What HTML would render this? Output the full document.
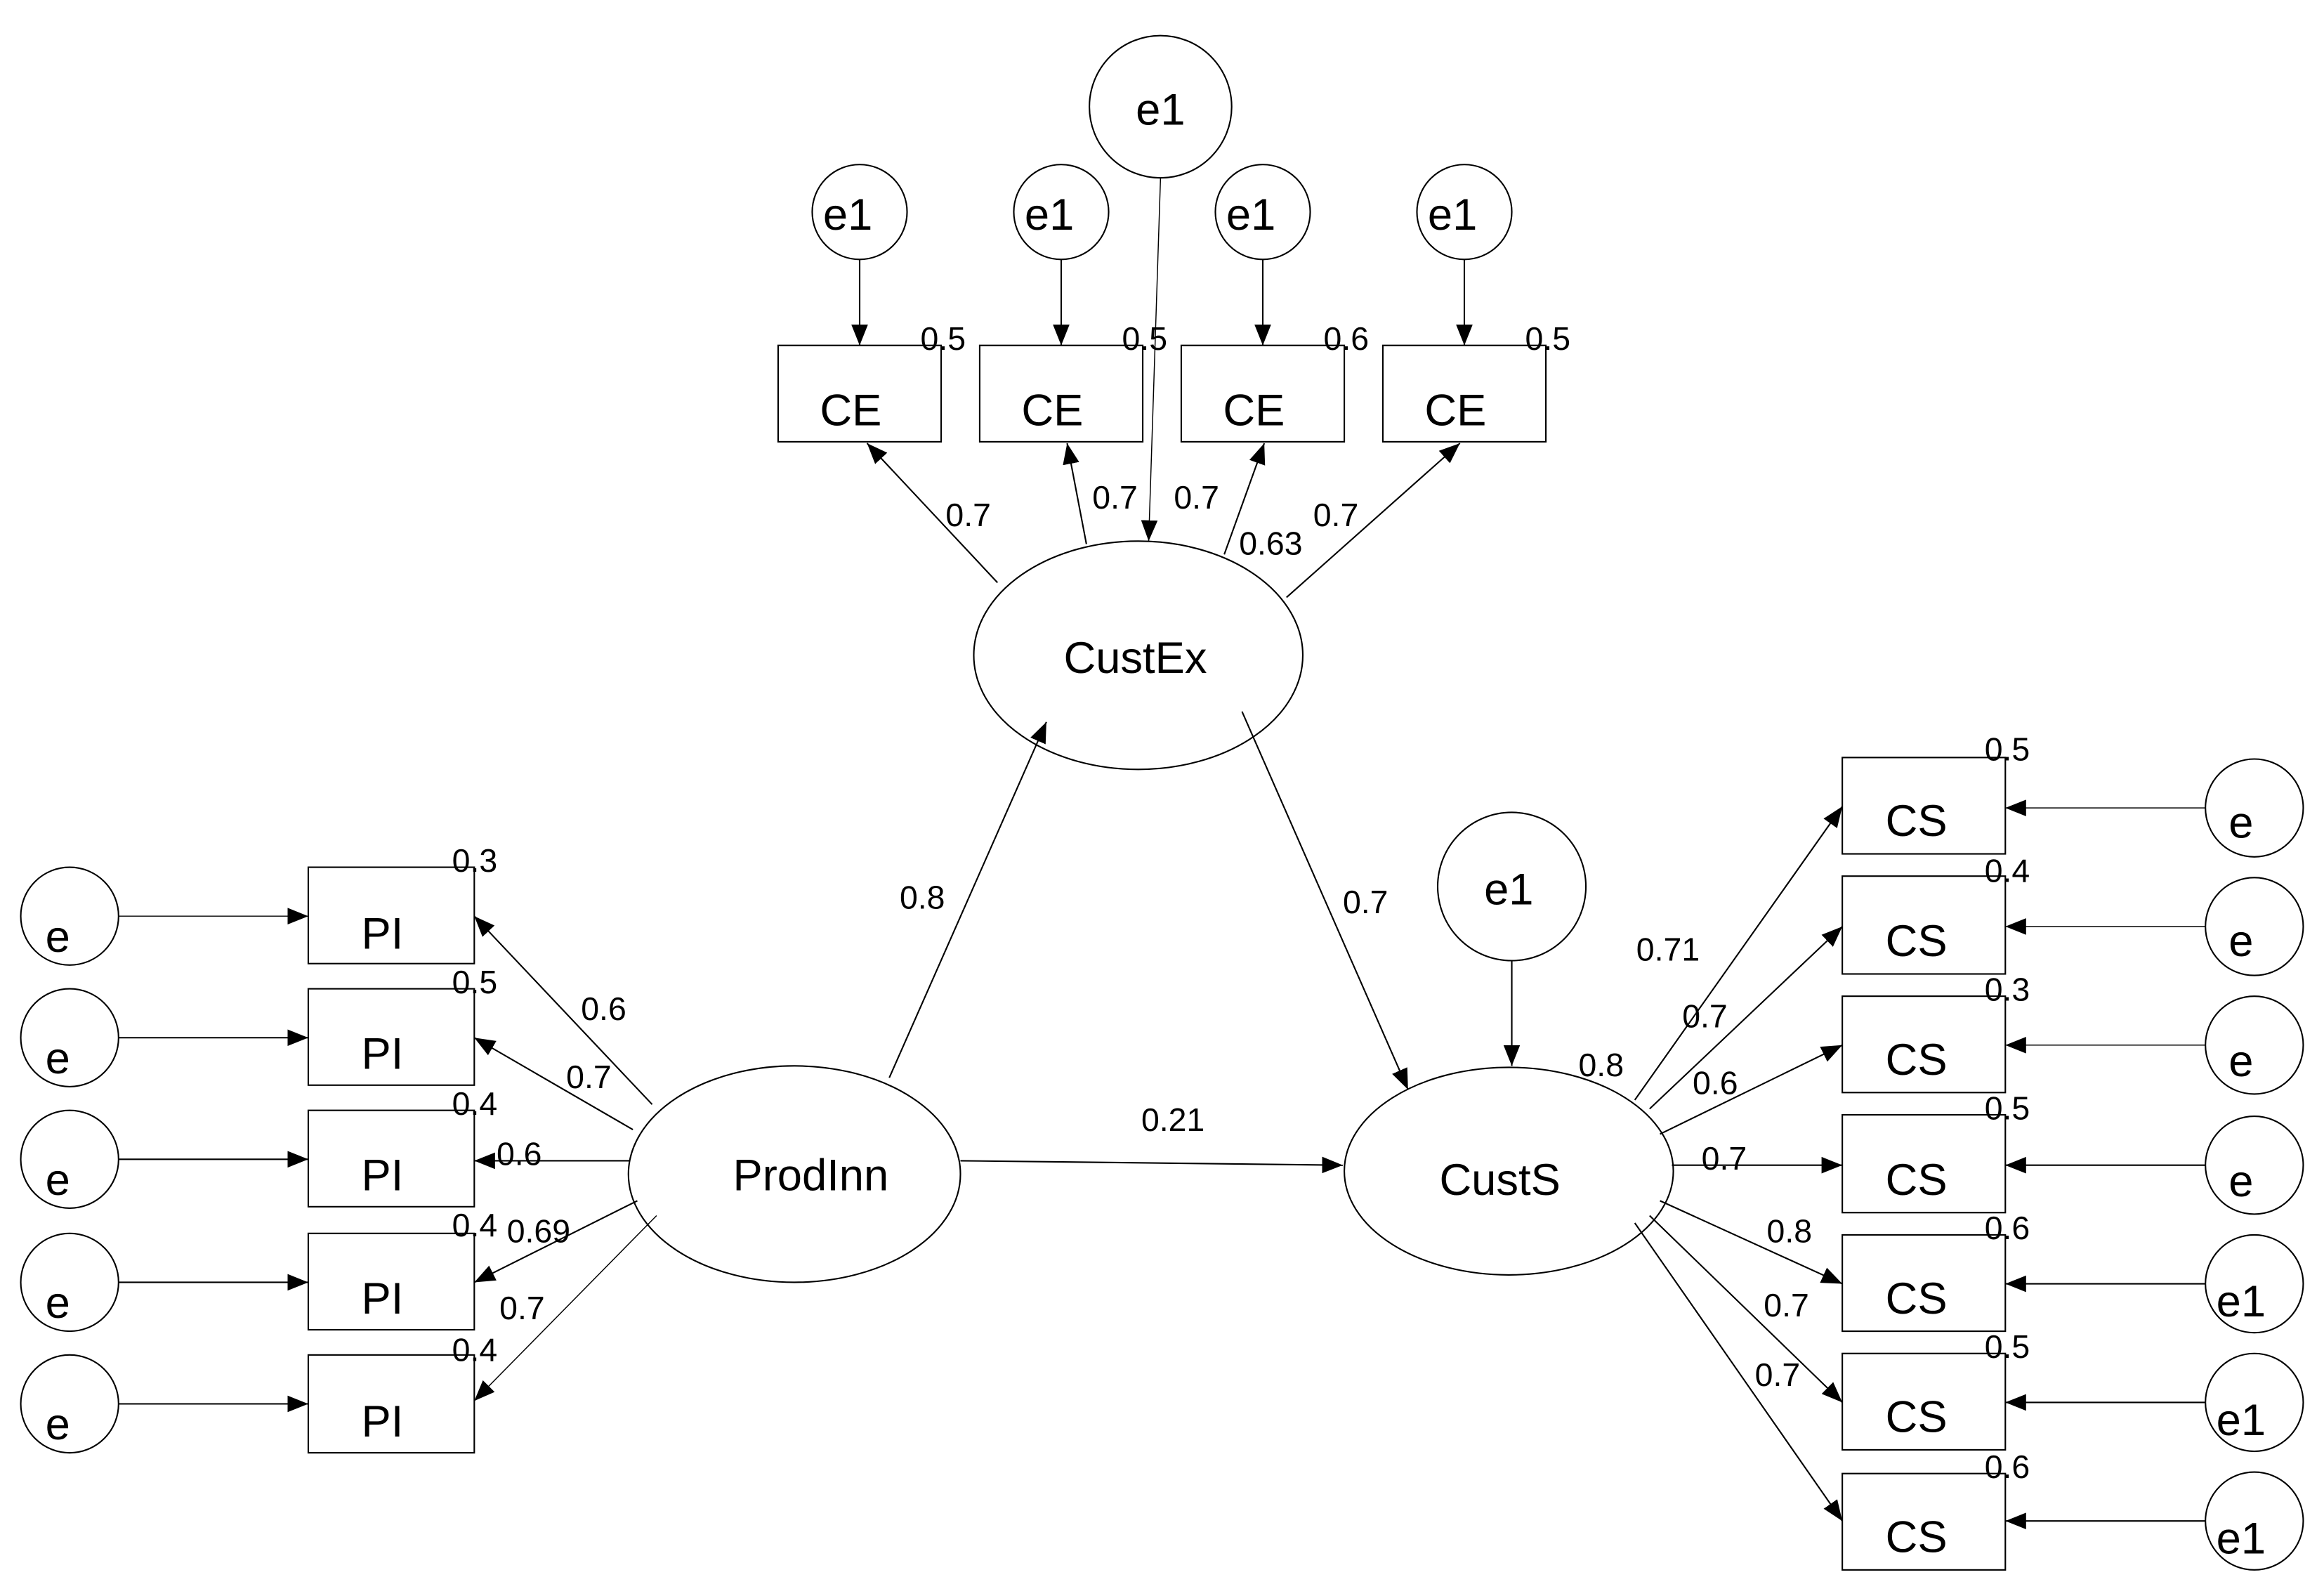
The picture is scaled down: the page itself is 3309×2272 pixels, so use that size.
<!DOCTYPE html>
<html><head><meta charset="utf-8"><style>
html,body{margin:0;padding:0;background:#fff;}
svg{display:block;}
text{font-family:"Liberation Sans",Arial,sans-serif;fill:#000;}
.b{font-size:30px;text-anchor:middle;}
.n{font-size:22px;}
</style></head><body>
<svg width="3309" height="2272" viewBox="0 0 1568 1076.6" preserveAspectRatio="none" xmlns="http://www.w3.org/2000/svg">
<defs><marker id="a" viewBox="0 0 10 10" refX="10" refY="5" markerWidth="9" markerHeight="9" markerUnits="userSpaceOnUse" orient="auto"><path d="M0,0L10,5L0,10z" fill="#000"/></marker>
<marker id="A" viewBox="0 0 10 10" refX="10" refY="5" markerWidth="14" markerHeight="14" markerUnits="userSpaceOnUse" orient="auto"><path d="M0,1L10,5L0,9z" fill="#000"/></marker></defs>
<g fill="none" stroke="#000" stroke-width="1">
<!-- top -->
<circle cx="783" cy="72" r="48"/>
<circle cx="580" cy="143" r="32"/><circle cx="716" cy="143" r="32"/><circle cx="852" cy="143" r="32"/><circle cx="988" cy="143" r="32"/>
<rect x="525" y="233" width="110" height="65"/><rect x="661" y="233" width="110" height="65"/><rect x="797" y="233" width="110" height="65"/><rect x="933" y="233" width="110" height="65"/>
<line x1="580" y1="175" x2="580" y2="233" marker-end="url(#A)"/>
<line x1="716" y1="175" x2="716" y2="233" marker-end="url(#A)"/>
<line x1="852" y1="175" x2="852" y2="233" marker-end="url(#A)"/>
<line x1="988" y1="175" x2="988" y2="233" marker-end="url(#A)"/>
<ellipse cx="768" cy="442" rx="111" ry="77"/>
<line x1="673" y1="393" x2="585" y2="299" marker-end="url(#A)"/>
<line x1="733" y1="367" x2="720" y2="299" marker-end="url(#A)"/>
<line x1="826" y1="374" x2="853" y2="299" marker-end="url(#A)"/>
<line x1="868" y1="403" x2="985" y2="299" marker-end="url(#A)"/>
<line x1="783" y1="120" x2="775" y2="365" stroke-width="0.7" marker-end="url(#A)"/>
<!-- center -->
<ellipse cx="536" cy="792" rx="112" ry="73"/>
<ellipse cx="1018" cy="790" rx="111" ry="70"/>
<line x1="600" y1="727" x2="706" y2="487" marker-end="url(#A)"/>
<line x1="838" y1="480" x2="950" y2="735" marker-end="url(#A)"/>
<line x1="648" y1="783" x2="906" y2="786" marker-end="url(#A)"/>
<circle cx="1020" cy="598" r="50"/>
<line x1="1020" y1="648" x2="1020" y2="719" marker-end="url(#A)"/>
<!-- PI -->
<rect x="208" y="585" width="112" height="65"/><rect x="208" y="667" width="112" height="65"/><rect x="208" y="749" width="112" height="65"/><rect x="208" y="832" width="112" height="65"/><rect x="208" y="914" width="112" height="66"/>
<circle cx="47" cy="618" r="33"/><circle cx="47" cy="700" r="33"/><circle cx="47" cy="782" r="33"/><circle cx="47" cy="865" r="33"/><circle cx="47" cy="947" r="33"/>
<line x1="80" y1="618" x2="208" y2="618" stroke-width="0.7" marker-end="url(#A)"/>
<line x1="80" y1="700" x2="208" y2="700" marker-end="url(#A)"/>
<line x1="80" y1="782" x2="208" y2="782" marker-end="url(#A)"/>
<line x1="80" y1="865" x2="208" y2="865" marker-end="url(#A)"/>
<line x1="80" y1="947" x2="208" y2="947" marker-end="url(#A)"/>
<line x1="440" y1="745" x2="320" y2="618" marker-end="url(#A)"/>
<line x1="427" y1="762" x2="320" y2="700" marker-end="url(#A)"/>
<line x1="425" y1="783" x2="320" y2="783" marker-end="url(#A)"/>
<line x1="430" y1="810" x2="320" y2="865" marker-end="url(#A)"/>
<line x1="443" y1="820" x2="320" y2="945" stroke-width="0.7" marker-end="url(#A)"/>
<!-- CS -->
<rect x="1243" y="511" width="110" height="65"/><rect x="1243" y="591" width="110" height="66"/><rect x="1243" y="672" width="110" height="65"/><rect x="1243" y="752" width="110" height="66"/><rect x="1243" y="833" width="110" height="65"/><rect x="1243" y="913" width="110" height="65"/><rect x="1243" y="994" width="110" height="65"/>
<circle cx="1521" cy="545" r="33"/><circle cx="1521" cy="625" r="33"/><circle cx="1521" cy="705" r="33"/><circle cx="1521" cy="786" r="33"/><circle cx="1521" cy="866" r="33"/><circle cx="1521" cy="946" r="33"/><circle cx="1521" cy="1026" r="33"/>
<line x1="1488" y1="545" x2="1353" y2="545" stroke-width="0.7" marker-end="url(#A)"/>
<line x1="1488" y1="625" x2="1353" y2="625" stroke-width="0.7" marker-end="url(#A)"/>
<line x1="1488" y1="705" x2="1353" y2="705" stroke-width="0.7" marker-end="url(#A)"/>
<line x1="1488" y1="786" x2="1353" y2="786" marker-end="url(#A)"/>
<line x1="1488" y1="866" x2="1353" y2="866" marker-end="url(#A)"/>
<line x1="1488" y1="946" x2="1353" y2="946" marker-end="url(#A)"/>
<line x1="1488" y1="1026" x2="1353" y2="1026" marker-end="url(#A)"/>
<line x1="1103" y1="742" x2="1243" y2="544" marker-end="url(#A)"/>
<line x1="1113" y1="748" x2="1243" y2="625" marker-end="url(#A)"/>
<line x1="1120" y1="765" x2="1243" y2="705" marker-end="url(#A)"/>
<line x1="1128" y1="786" x2="1243" y2="786" marker-end="url(#A)"/>
<line x1="1120" y1="810" x2="1243" y2="866" marker-end="url(#A)"/>
<line x1="1113" y1="820" x2="1243" y2="946" marker-end="url(#A)"/>
<line x1="1103" y1="825" x2="1243" y2="1026" marker-end="url(#A)"/>
</g>
<!-- text -->
<text class="b" x="783" y="84">e1</text>
<text class="b" x="572" y="155">e1</text><text class="b" x="708" y="155">e1</text><text class="b" x="844" y="155">e1</text><text class="b" x="980" y="155">e1</text>
<text class="b" x="574" y="287">CE</text><text class="b" x="710" y="287">CE</text><text class="b" x="846" y="287">CE</text><text class="b" x="982" y="287">CE</text>
<text class="n" x="621" y="236">0.5</text><text class="n" x="757" y="236">0.5</text><text class="n" x="893" y="236">0.6</text><text class="n" x="1029" y="236">0.5</text>
<text class="n" x="638" y="355">0.7</text><text class="n" x="737" y="343">0.7</text><text class="n" x="792" y="343">0.7</text><text class="n" x="836" y="374">0.63</text><text class="n" x="886" y="355">0.7</text>
<text class="b" x="766" y="454">CustEx</text>
<text class="b" x="547" y="803">ProdInn</text>
<text class="b" x="1012" y="806">CustS</text>
<text class="b" x="1018" y="610">e1</text>
<text class="n" x="607" y="613">0.8</text><text class="n" x="906" y="616">0.7</text><text class="n" x="770" y="763">0.21</text><text class="n" x="1065" y="726">0.8</text>
<text class="b" x="258" y="640">PI</text><text class="b" x="258" y="721">PI</text><text class="b" x="258" y="803">PI</text><text class="b" x="258" y="886">PI</text><text class="b" x="258" y="969">PI</text>
<text class="b" x="39" y="642">e</text><text class="b" x="39" y="724">e</text><text class="b" x="39" y="806">e</text><text class="b" x="39" y="889">e</text><text class="b" x="39" y="971">e</text>
<text class="n" x="305" y="588">0.3</text><text class="n" x="305" y="670">0.5</text><text class="n" x="305" y="752">0.4</text><text class="n" x="305" y="834">0.4</text><text class="n" x="305" y="918">0.4</text>
<text class="n" x="392" y="688">0.6</text><text class="n" x="382" y="734">0.7</text><text class="n" x="335" y="786">0.6</text><text class="n" x="342" y="838">0.69</text><text class="n" x="337" y="890">0.7</text>
<text class="b" x="1293" y="564">CS</text><text class="b" x="1293" y="645">CS</text><text class="b" x="1293" y="725">CS</text><text class="b" x="1293" y="806">CS</text><text class="b" x="1293" y="886">CS</text><text class="b" x="1293" y="966">CS</text><text class="b" x="1293" y="1047">CS</text>
<text class="b" x="1512" y="565">e</text><text class="b" x="1512" y="645">e</text><text class="b" x="1512" y="726">e</text><text class="b" x="1512" y="807">e</text>
<text class="b" x="1512" y="888">e1</text><text class="b" x="1512" y="968">e1</text><text class="b" x="1512" y="1048">e1</text>
<text class="n" x="1339" y="513">0.5</text><text class="n" x="1339" y="595">0.4</text><text class="n" x="1339" y="675">0.3</text><text class="n" x="1339" y="755">0.5</text><text class="n" x="1339" y="836">0.6</text><text class="n" x="1339" y="916">0.5</text><text class="n" x="1339" y="997">0.6</text>
<text class="n" x="1104" y="648">0.71</text><text class="n" x="1135" y="693">0.7</text><text class="n" x="1142" y="738">0.6</text><text class="n" x="1148" y="789">0.7</text><text class="n" x="1192" y="838">0.8</text><text class="n" x="1190" y="888">0.7</text><text class="n" x="1184" y="935">0.7</text>
</svg>
</body></html>
